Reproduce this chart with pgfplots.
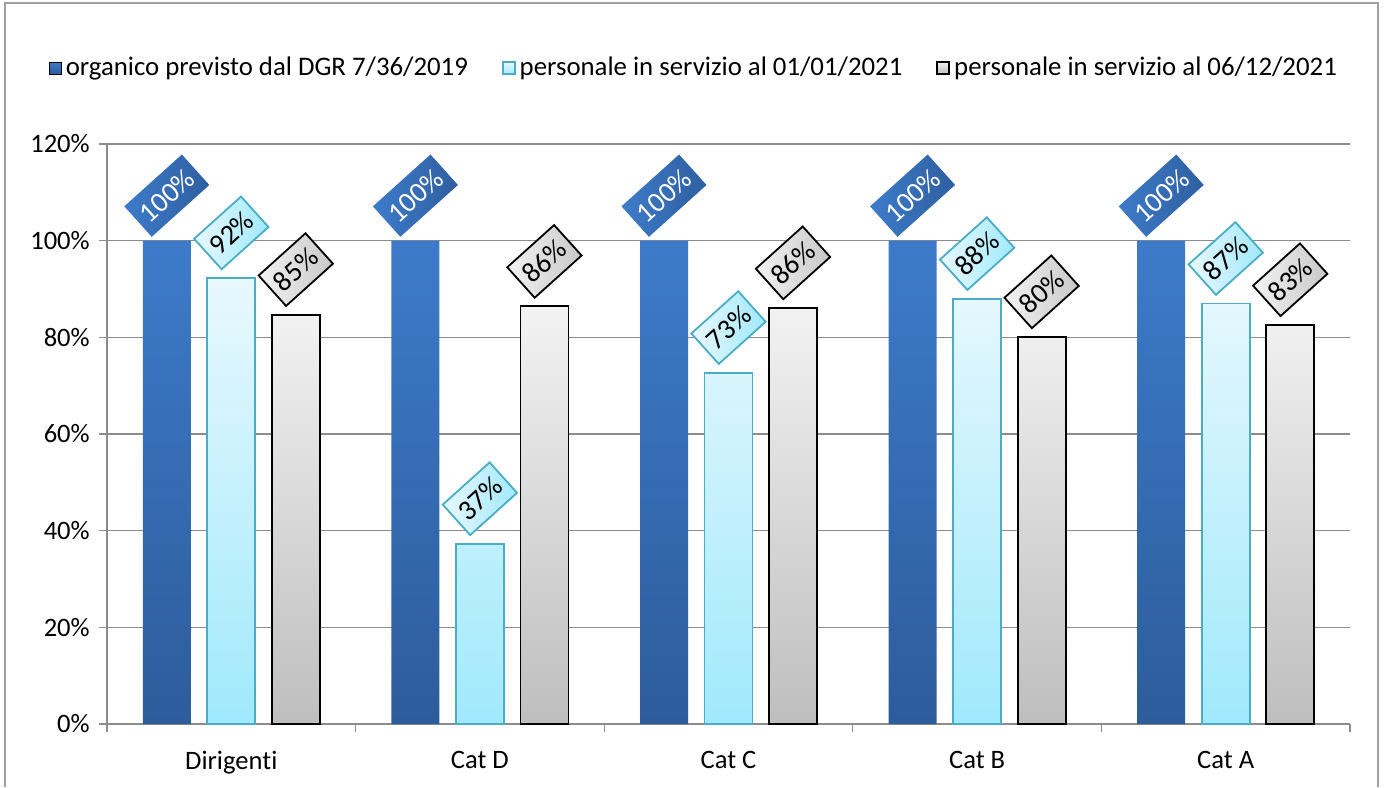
\documentclass[border=0pt]{standalone}
\usepackage{fontspec}
\setmainfont[Ligatures=NoCommon]{Carlito}
\usepackage{pgfplots}
\pgfplotsset{compat=1.18}
\definecolor{blueT}{HTML}{3D7BCA}
\definecolor{blueB}{HTML}{2D5C9B}
\definecolor{cyanT}{HTML}{E8F8FD}
\definecolor{cyanB}{HTML}{A0E9FC}
\definecolor{cyanE}{HTML}{4BACC6}
\definecolor{grayT}{HTML}{F2F2F2}
\definecolor{grayB}{HTML}{BEBEBE}
\definecolor{gridc}{HTML}{8C8C8C}
\definecolor{framec}{HTML}{A0A0A0}
\tikzset{lblbase/.style={anchor=center, xshift=#1, yshift=22.5pt, rotate=42,
    inner xsep=3.5pt, inner ysep=3pt, minimum height=20.5pt,
    font=\fontsize{14.2}{17}\selectfont}}
\pgfkeys{/pgf/number format/assume math mode=true}
\begin{document}%
\fontsize{13.3}{16}\selectfont%
\begin{tikzpicture}
\path[use as bounding box] (-53.5pt,-31.5pt) rectangle (638.5pt,362pt);
\begin{axis}[
  at={(0pt,0pt)}, anchor=south west,
  scale only axis, width=621.5pt, height=290pt,
  xmin=-0.5, xmax=4.5, ymin=0, ymax=120,
  axis lines=left, axis line style={-, draw=gridc, line width=0.6pt},
  ytick={0,20,...,120},
  yticklabel={\pgfmathprintnumber{\tick}\%},
  ymajorgrids, grid style={draw=gridc, line width=0.6pt},
  xtick={0,1,2,3,4},
  xticklabels={Dirigenti, Cat D, Cat C, Cat B, Cat A},
  x tick label style={yshift=-5pt},
  minor xtick={-0.5,0.5,...,4.5},
  major x tick style={draw=none},
  minor x tick style={draw=gridc, line width=0.6pt},
  y tick style={draw=gridc, line width=0.6pt},
  tick align=outside, major tick length=4pt, minor tick length=4pt,
  xminorgrids=false,
  tick label style={font=\fontsize{13.3}{16}\selectfont},
  legend columns=3,
  legend style={draw=none, fill=none, at={(0.473,1.131)}, anchor=center,
    font=\fontsize{13.4}{16}\selectfont,
    /tikz/every even column/.append style={column sep=15pt}},
  legend image code/.code={\draw[#1] (0pt,-3pt) rectangle (6pt,3pt);},
  nodes near coords={\pgfmathprintnumber[fixed,precision=0]{\pgfplotspointmeta}\%},
]
\addplot[ybar, bar width=24pt, bar shift=-32.25pt, draw=none,
  top color=blueT, bottom color=blueB,
  every node near coord/.style={lblbase=-32.25pt, shade, left color=blueT, right color=blueB!90!blueT, draw=none, text=white}]
  coordinates {(0,100) (1,100) (2,100) (3,100) (4,100)};
\addlegendentry{organico previsto dal DGR 7/36/2019}
\addplot[ybar, bar width=24pt, bar shift=0pt, draw=cyanE, line width=0.9pt,
  top color=cyanT, bottom color=cyanB,
  every node near coord/.style={lblbase=0pt, shade, left color=cyanT, right color=cyanB, draw=cyanE, line width=0.9pt, text=black}]
  coordinates {(0,92.3) (1,37.3) (2,72.7) (3,88.0) (4,87.0)};
\addlegendentry{personale in servizio al 01/01/2021}
\addplot[ybar, bar width=24pt, bar shift=32.25pt, draw=black, line width=0.9pt,
  top color=grayT, bottom color=grayB,
  every node near coord/.style={lblbase=32.25pt, shade, left color=grayT, right color=grayB!80!grayT, draw=black, line width=0.9pt, text=black}]
  coordinates {(0,84.7) (1,86.4) (2,86.1) (3,80.1) (4,82.6)};
\addlegendentry{personale in servizio al 06/12/2021}
\end{axis}
\draw[framec, line width=0.8pt] (-51pt,-31.5pt) -- (-51pt,360.5pt) -- (635.5pt,360.5pt) -- (635.5pt,-31.5pt);
\end{tikzpicture}%
\end{document}
